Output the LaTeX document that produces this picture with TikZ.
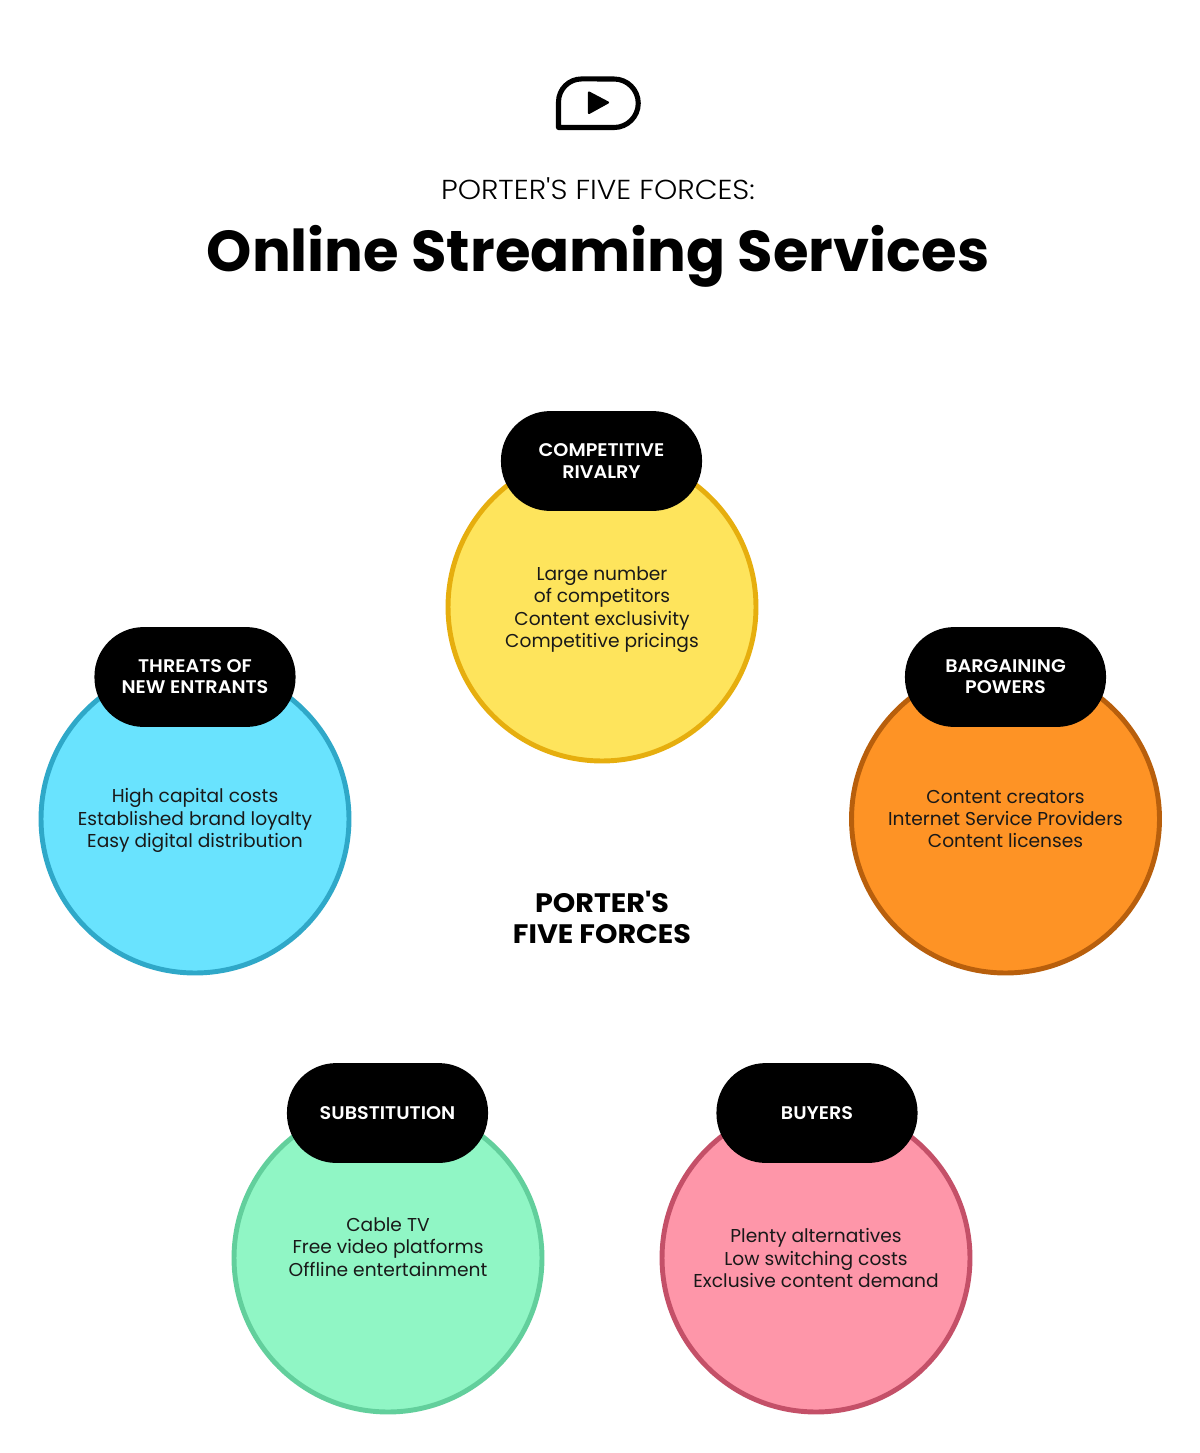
\documentclass[tikz,border=0pt]{standalone}
\usepackage{fontspec}
\setmainfont{Poppins}
\newfontfamily\lightfont[FakeStretch=1.08]{Poppins Light}
\newfontfamily\semifont[FakeStretch=1.05]{Poppins SemiBold}
\newfontfamily\boldfont{Poppins Bold}
\newfontfamily\widebold[FakeStretch=1.07]{Poppins Bold}
\definecolor{yellowfill}{HTML}{FEE45C}
\definecolor{yellowline}{HTML}{E6AE0E}
\definecolor{bluefill}{HTML}{69E3FE}
\definecolor{blueline}{HTML}{2FA8C8}
\definecolor{orangefill}{HTML}{FE9325}
\definecolor{orangeline}{HTML}{B85F0C}
\definecolor{greenfill}{HTML}{90F6C5}
\definecolor{greenline}{HTML}{62CF9C}
\definecolor{pinkfill}{HTML}{FE96A9}
\definecolor{pinkline}{HTML}{C45068}
\tikzset{
  force/.style={circle,draw=#1line,fill=#1fill,line width=3.5pt,minimum size=219pt,inner sep=0pt},
  pill/.style={rectangle,rounded corners=35pt,fill=black,text=white,minimum width=143pt,minimum height=71pt,
    align=center,inner sep=0pt,font=\semifont\fontsize{13}{15}\selectfont},
  body/.style={align=center,inner sep=0pt,text=black!90,font=\fontsize{13.25}{15.95}\selectfont},
}
\begin{document}
\begin{tikzpicture}[x=0.025cm,y=-0.025cm]
  \useasboundingbox (0,0) rectangle (1200,1453);
  % icon
  \draw[line width=3.6pt,line join=round] (558.5,127.5) -- (558.5,102) arc (180:90:16.4pt) -- (614,79) arc (90:-90:17.25pt) -- cycle;
  \fill[draw=black,line width=1.5pt,line join=round] (589,92.5) -- (608,102.5) -- (589,113) -- cycle;
  % title
  \node (subtitle) at (598,189) [inner sep=0pt,font=\lightfont\fontsize{19.5}{22}\selectfont] {PORTER'S FIVE FORCES:};
  \node (title) at (598,256) [inner sep=0pt,font=\boldfont\fontsize{41}{48}\selectfont] {Online Streaming Services};
  % circles
  \node (rivalry) at (602,607) [force=yellow] {};
  \node (entrants) at (195,819) [force=blue] {};
  \node (powers) at (1005.5,819) [force=orange] {};
  \node (substitution) at (388,1258) [force=green] {};
  \node (buyers) at (816,1258) [force=pink] {};
  % headers
  \node (rivalryhead) at (601.5,461) [pill] {COMPETITIVE\\RIVALRY};
  \node (entrantshead) at (195,677) [pill] {THREATS OF\\NEW ENTRANTS};
  \node (powershead) at (1005.5,677) [pill] {BARGAINING\\POWERS};
  \node (substitutionhead) at (387.5,1113) [pill] {SUBSTITUTION};
  \node (buyershead) at (817,1113) [pill] {BUYERS};
  % texts
  \node (rivalrytext) at (602,609.5) [body] {Large number\\of competitors\\Content exclusivity\\Competitive pricings};
  \node (entrantstext) at (195,820.5) [body] {High capital costs\\Established brand loyalty\\Easy digital distribution};
  \node (powerstext) at (1005.5,819) [body] {Content creators\\Internet Service Providers\\Content licenses};
  \node (substitutiontext) at (388,1247) [body] {Cable TV\\Free video platforms\\Offline entertainment};
  \node (buyerstext) at (816,1258) [body] {Plenty alternatives\\Low switching costs\\Exclusive content demand};
  \node (centre) at (602,917) [align=center,inner sep=0pt,font=\widebold\fontsize{19}{22}\selectfont] {PORTER'S\\FIVE FORCES};
\end{tikzpicture}
\end{document}
